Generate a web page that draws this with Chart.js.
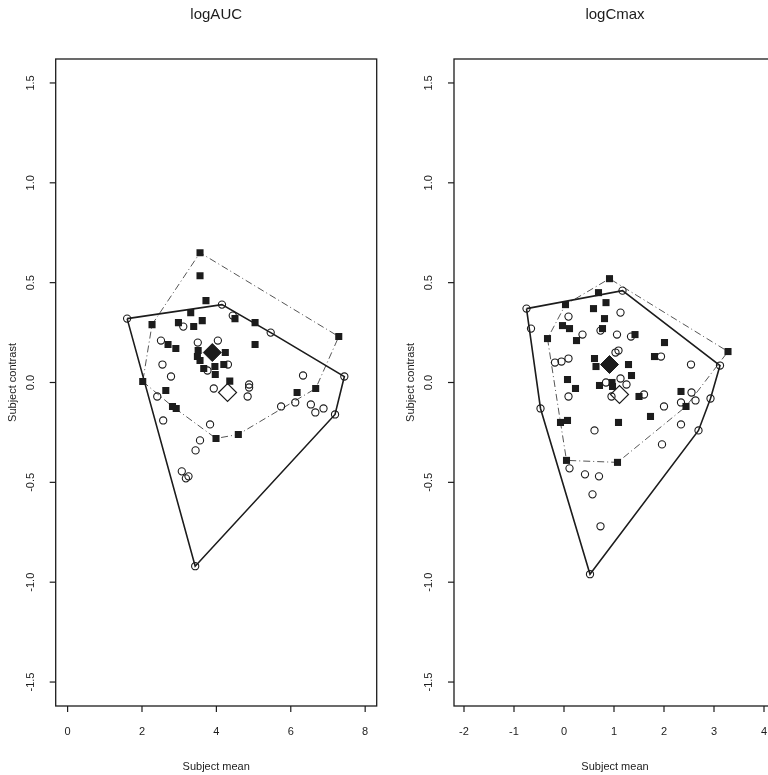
<!DOCTYPE html>
<html>
<head>
<meta charset="utf-8">
<script src="https://cdn.jsdelivr.net/npm/chart.js@4/dist/chart.umd.min.js"></script>
<style>
	html, body { margin: 0; padding: 0; background: #fff; }
	body { width: 768px; height: 775px; overflow: hidden; position: relative; }
	canvas { position: absolute; top: 0; }
	#auc { left: 0; }
	#cmax { left: 400px; }
</style>
</head>
<body>
<canvas id="auc" width="400" height="775"></canvas>
<canvas id="cmax" width="400" height="775"></canvas>
<script>
//logAUC: open circles (group 1), filled squares (group 2).
const aucCircX = [1.60, 4.15, 4.44, 5.46, 7.44, 7.19, 3.11, 2.51, 3.50, 4.04, 2.55, 2.78, 3.76, 4.31, 3.93, 4.88, 4.88,
	4.84, 2.41, 6.33, 5.74, 6.12, 6.54, 6.66, 6.88, 2.57, 3.83, 3.56, 3.44, 3.07, 3.18, 3.25, 3.43];
const aucCircY = [0.32, 0.39, 0.335, 0.25, 0.03, -0.16, 0.28, 0.21, 0.20, 0.21, 0.09, 0.03, 0.06, 0.09, -0.03, -0.01, -0.025,
	-0.07, -0.07, 0.035, -0.12, -0.10, -0.11, -0.15, -0.13, -0.19, -0.21, -0.29, -0.34, -0.445, -0.48, -0.47, -0.92];
const aucSqX = [3.56, 3.56, 3.72, 3.31, 2.27, 2.98, 3.62, 3.39, 4.50, 5.04, 5.04, 7.29, 2.70, 2.91, 3.51, 4.24,
	3.49, 3.56, 3.66, 3.96, 3.97, 4.20, 4.36, 2.02, 2.64, 2.82, 2.92, 6.17, 6.67, 3.99, 4.59];
const aucSqY = [0.65, 0.535, 0.41, 0.35, 0.29, 0.30, 0.31, 0.28, 0.32, 0.30, 0.19, 0.23, 0.19, 0.17, 0.16, 0.15,
	0.13, 0.11, 0.07, 0.08, 0.04, 0.09, 0.007, 0.005, -0.04, -0.12, -0.13, -0.05, -0.03, -0.28, -0.26];
const aucMeanSq = [3.89, 0.15];
const aucMeanCirc = [4.30, -0.05];

//logCmax.
const cmaxCircX = [-0.75, 1.17, 3.12, -0.66, -0.47, 0.09, 1.13, 0.37, 0.73, 1.06, 1.34, 1.03, 1.09, 1.94, 2.54, -0.18, -0.05,
	0.09, 0.84, 1.13, 1.25, 0.95, 0.09, 1.60, 2.00, 2.34, 2.55, 2.63, 2.93, 2.69, 2.34, 0.61, 1.96, 0.11, 0.42, 0.70, 0.57, 0.73, 0.52];
const cmaxCircY = [0.37, 0.46, 0.085, 0.27, -0.13, 0.33, 0.35, 0.24, 0.26, 0.24, 0.23, 0.15, 0.16, 0.13, 0.09, 0.10, 0.105,
	0.12, 0.0, 0.02, -0.01, -0.07, -0.07, -0.06, -0.12, -0.10, -0.05, -0.09, -0.08, -0.24, -0.21, -0.24, -0.31, -0.43, -0.46, -0.47, -0.56, -0.72, -0.96];
const cmaxSqX = [0.91, 0.69, 0.03, 0.84, 0.59, 0.81, -0.03, 0.11, 0.77, -0.33, 0.25, 1.42, 2.01, 1.81, 3.28, 0.61, 0.64,
	1.29, 1.35, 0.07, 0.23, 0.71, 0.96, 0.97, 1.50, 2.34, 2.44, 1.73, 1.09, -0.07, 0.07, 0.05, 1.07];
const cmaxSqY = [0.52, 0.45, 0.39, 0.40, 0.37, 0.32, 0.285, 0.27, 0.27, 0.22, 0.21, 0.24, 0.20, 0.13, 0.155, 0.12, 0.08,
	0.09, 0.035, 0.015, -0.03, -0.015, 0.0, -0.02, -0.07, -0.045, -0.12, -0.17, -0.20, -0.20, -0.19, -0.39, -0.40];
const cmaxMeanSq = [0.91, 0.09];
const cmaxMeanCirc = [1.11, -0.06];

const Y_TICKS = [-1.5, -1.0, -0.5, 0.0, 0.5, 1.0, 1.5];
const FONT = '"Liberation Sans", Arial, Helvetica, sans-serif';
const INK = '#1c1c1c';

function pts(xs, ys){
	return xs.map((x, i) => ({ x: x, y: ys[i] }));
}

//Inviluppo convesso (monotone chain), chiuso sul primo punto.
function hull(p){
	const s = p.slice().sort((a, b) => a.x - b.x || a.y - b.y);
	const cross = (o, a, b) => (a.x - o.x) * (b.y - o.y) - (a.y - o.y) * (b.x - o.x);
	const lo = [], up = [];
	for(const q of s){
		while(lo.length >= 2 && cross(lo[lo.length - 2], lo[lo.length - 1], q) <= 0) lo.pop();
		lo.push(q);
	}
	for(let i = s.length - 1; i >= 0; i--){
		const q = s[i];
		while(up.length >= 2 && cross(up[up.length - 2], up[up.length - 1], q) <= 0) up.pop();
		up.push(q);
	}
	const h = lo.slice(0, -1).concat(up.slice(0, -1));
	h.push(h[0]);
	return h;
}

//Assi in stile R: cornice, tacche esterne, etichette y ruotate.
const rAxes = {
	id: 'rAxes',
	afterDraw(chart, args, o){
		const { ctx, chartArea: a, scales: { x, y } } = chart;
		ctx.save();
		ctx.strokeStyle = INK;
		ctx.fillStyle = INK;
		ctx.lineWidth = 1.3;
		ctx.strokeRect(a.left, a.top, a.width, a.height);

		ctx.lineWidth = 1.2;
		ctx.font = '11px ' + FONT;
		ctx.textAlign = 'center';
		ctx.textBaseline = 'middle';
		o.xTicks.forEach(v => {
			const px = x.getPixelForValue(v);
			ctx.beginPath(); ctx.moveTo(px, a.bottom); ctx.lineTo(px, a.bottom + 6); ctx.stroke();
			ctx.fillText(String(v), px, a.bottom + 26);
		});
		Y_TICKS.forEach(v => {
			const py = y.getPixelForValue(v);
			ctx.beginPath(); ctx.moveTo(a.left, py); ctx.lineTo(a.left - 6, py); ctx.stroke();
			ctx.save();
			ctx.translate(a.left - 25, py);
			ctx.rotate(-Math.PI / 2);
			ctx.fillText(v.toFixed(1), 0, 0);
			ctx.restore();
		});

		ctx.fillText('Subject mean', (a.left + a.right) / 2, a.bottom + 61);
		ctx.save();
		ctx.translate(a.left - 43, (a.top + a.bottom) / 2);
		ctx.rotate(-Math.PI / 2);
		ctx.fillText('Subject contrast', 0, 0);
		ctx.restore();

		ctx.font = '15px ' + FONT;
		ctx.fillText(o.title, (a.left + a.right) / 2, 15);
		ctx.restore();
	}
};

function panel(id, title, xMin, xMax, xTicks, circles, squares, meanSq, meanCirc, pad){
	new Chart(document.getElementById(id), {
		type: 'scatter',
		data: {
			datasets: [
				{ data: [{ x: meanSq[0], y: meanSq[1] }], pointStyle: 'rectRot', pointRadius: 9,
					backgroundColor: INK, borderColor: INK, borderWidth: 1, order: 0 },
				{ data: [{ x: meanCirc[0], y: meanCirc[1] }], pointStyle: 'rectRot', pointRadius: 9,
					backgroundColor: 'rgba(0,0,0,0)', borderColor: INK, borderWidth: 1.2, order: 1 },
				{ data: squares, pointStyle: 'rect', pointRadius: 5,
					backgroundColor: INK, borderColor: INK, borderWidth: 0, order: 2 },
				{ data: circles, pointStyle: 'circle', pointRadius: 3.6,
					backgroundColor: 'rgba(0,0,0,0)', borderColor: INK, borderWidth: 1.1, order: 3 },
				{ data: hull(circles), showLine: true, tension: 0, pointRadius: 0,
					borderColor: INK, borderWidth: 1.6, order: 4 },
				{ data: hull(squares), showLine: true, tension: 0, pointRadius: 0,
					borderColor: '#555', borderWidth: 1, borderDash: [7, 3, 1, 3], order: 5 }
			]
		},
		options: {
			responsive: false,
			animation: false,
			events: [],
			layout: { padding: pad },
			scales: {
				x: { type: 'linear', min: xMin, max: xMax, display: false },
				y: { type: 'linear', min: -1.62, max: 1.62, display: false }
			},
			plugins: {
				legend: { display: false },
				tooltip: { enabled: false },
				rAxes: { title: title, xTicks: xTicks }
			}
		},
		plugins: [rAxes]
	});
}

panel('auc', 'logAUC', -0.32, 8.31, [0, 2, 4, 6, 8],
	pts(aucCircX, aucCircY), pts(aucSqX, aucSqY), aucMeanSq, aucMeanCirc,
	{ left: 55.7, right: 23.3, top: 59, bottom: 69 });

panel('cmax', 'logCmax', -2.2, 4.24, [-2, -1, 0, 1, 2, 3, 4],
	pts(cmaxCircX, cmaxCircY), pts(cmaxSqX, cmaxSqY), cmaxMeanSq, cmaxMeanCirc,
	{ left: 54, right: 24, top: 59, bottom: 69 });
</script>
</body>
</html>
